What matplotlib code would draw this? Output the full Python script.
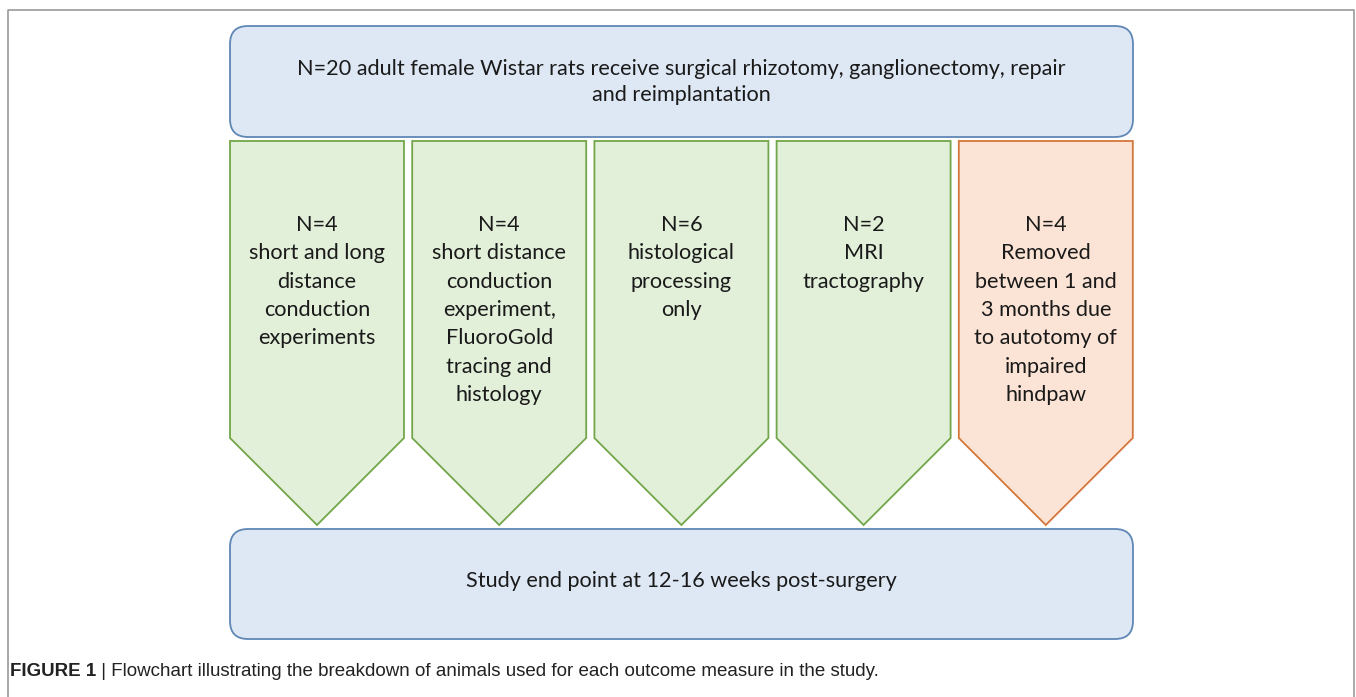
import matplotlib.pyplot as plt
from matplotlib.patches import FancyBboxPatch, Polygon

top_text = "N=20 adult female Wistar rats receive surgical rhizotomy, ganglionectomy, repair\nand reimplantation"
bottom_text = "Study end point at 12-16 weeks post-surgery"
group_counts = [4, 4, 6, 2, 4]
group_labels = [
    "short and long\ndistance\nconduction\nexperiments",
    "short distance\nconduction\nexperiment,\nFluoroGold\ntracing and\nhistology",
    "histological\nprocessing\nonly",
    "MRI\ntractography",
    "Removed\nbetween 1 and\n3 months due\nto autotomy of\nimpaired\nhindpaw",
]
group_removed = [False, False, False, False, True]
caption_bold = "FIGURE 1"
caption_rest = " | Flowchart illustrating the breakdown of animals used for each outcome measure in the study."

BLUE_FILL, BLUE_EDGE = "#dee8f5", "#5f87b5"
GREEN_FILL, GREEN_EDGE = "#e2efd9", "#72a64a"
ORANGE_FILL, ORANGE_EDGE = "#fbe4d5", "#d4763c"
FONT = ["Lato", "DejaVu Sans"]
CAP_FONT = ["Liberation Sans Narrow", "Liberation Sans"]

fig = plt.figure(figsize=(13.56, 6.97), dpi=100)
ax = fig.add_axes([0, 0, 1, 1])
ax.set_xlim(0, 1356)
ax.set_ylim(697, 0)
ax.axis("off")

# outer frame (open at bottom)
ax.plot([8, 8, 1354, 1354], [697, 10, 10, 697], color="#9a9a9a", lw=1.2)

left, right = 230, 1133
for y0, y1, txt, ty in [(26, 137, top_text, 82), (529, 639, bottom_text, 581)]:
    ax.add_patch(FancyBboxPatch((left, y0), right - left, y1 - y0,
                                boxstyle="round,pad=0,rounding_size=18",
                                fc=BLUE_FILL, ec=BLUE_EDGE, lw=1.3))
    ax.text((left + right) / 2, ty, txt, ha="center", va="center", fontsize=15.6,
            family=FONT, color="#1a1a1a", linespacing=1.42)

width, step = 174, 182.2
top, shoulder, tip = 141, 438, 525
for i, (n, label, removed) in enumerate(zip(group_counts, group_labels, group_removed)):
    x0 = left + i * step
    x1 = x0 + width
    xm = (x0 + x1) / 2
    fc, ec = (ORANGE_FILL, ORANGE_EDGE) if removed else (GREEN_FILL, GREEN_EDGE)
    ax.add_patch(Polygon([(x0, top), (x1, top), (x1, shoulder), (xm, tip), (x0, shoulder)],
                         closed=True, fc=fc, ec=ec, lw=1.3))
    ax.text(xm, 215, f"N={n}\n{label}", ha="center", va="top", fontsize=15.6,
            family=FONT, color="#1a1a1a", linespacing=1.52)

cap = ax.text(10, 672, caption_bold, ha="left", va="center", fontsize=13.5,
              family=CAP_FONT, weight="bold", color="#222222")
fig.canvas.draw()
bb = cap.get_window_extent()
x_end = ax.transData.inverted().transform((bb.x1, bb.y0))[0]
ax.text(x_end, 672, caption_rest, ha="left", va="center", fontsize=13.5,
        family=CAP_FONT, color="#222222")

fig.savefig("out.png", dpi=100)
